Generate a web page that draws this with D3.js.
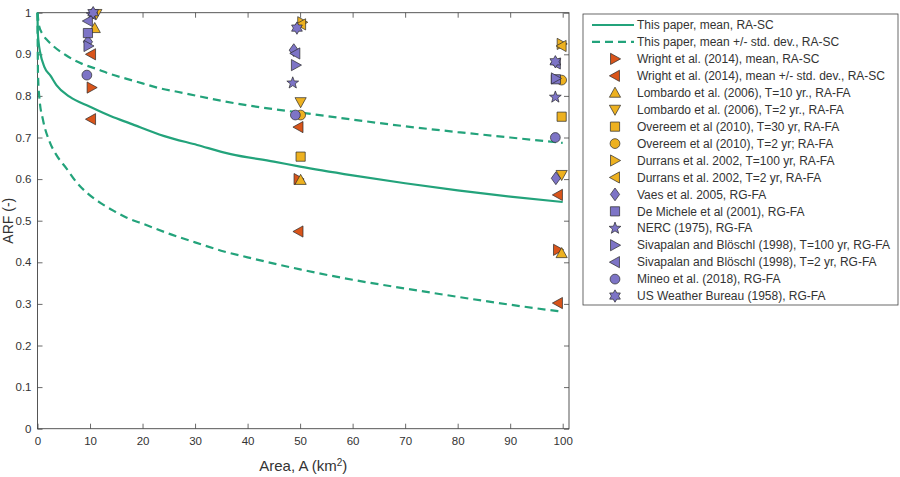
<!DOCTYPE html>
<html><head><meta charset="utf-8">
<script src="https://cdn.jsdelivr.net/npm/d3@7"></script>
<style>
body{margin:0;background:#fff}
svg{display:block}
text{font-family:"Liberation Sans",Arial,Helvetica,sans-serif}
</style>
</head><body>
<svg id="c" width="900" height="477"></svg>
<script>
// ---------------- DATA ----------------
const xTicks = [0,10,20,30,40,50,60,70,80,90,100];
const yTicks = [0,0.1,0.2,0.3,0.4,0.5,0.6,0.7,0.8,0.9,1];
const yTickLabels = ["0","0.1","0.2","0.3","0.4","0.5","0.6","0.7","0.8","0.9","1"];

// This paper: mean and mean +/- std. dev.
const meanA   = [0, 0.05, 0.2, 0.5, 1.3, 2.5, 3.6, 6.1, 10, 14, 17.6, 24, 30.4, 36.8, 45, 50, 60, 70, 80, 90, 100];
const meanARF = [1, 0.955, 0.93, 0.905, 0.87, 0.848, 0.826, 0.798, 0.774, 0.751, 0.734, 0.704, 0.682, 0.66, 0.642, 0.63, 0.609, 0.59, 0.573, 0.558, 0.545];
const upperA   = [0, 0.3, 1, 2, 2.9, 5.5, 8.5, 11.2, 14, 17, 20, 23.4, 26.6, 35.5, 45, 50, 60, 70, 80, 90, 100];
const upperARF = [1, 0.968, 0.948, 0.932, 0.921, 0.897, 0.877, 0.865, 0.852, 0.841, 0.83, 0.818, 0.81, 0.787, 0.768, 0.76, 0.743, 0.727, 0.713, 0.7, 0.687];
const lowerA   = [0, 0.1, 0.4, 1, 2.3, 3.5, 5.5, 7.4, 9.6, 12.2, 14.6, 17, 20, 25, 30, 35.5, 40, 50, 60, 70, 80, 90, 100];
const lowerARF = [1, 0.85, 0.79, 0.745, 0.69, 0.66, 0.626, 0.593, 0.565, 0.541, 0.523, 0.507, 0.493, 0.469, 0.448, 0.426, 0.412, 0.383, 0.358, 0.337, 0.317, 0.298, 0.281];

// Literature values
const wrightMeanA = [10.3, 49.7, 99.1];           const wrightMean = [0.82, 0.60, 0.43];
const wrightSdA   = [10.2, 10.2, 49.7, 49.7, 99.1, 99.1]; const wrightSd = [0.90, 0.744, 0.725, 0.474, 0.562, 0.302];
const lombardo10A = [10.9, 50.1, 99.8];           const lombardo10 = [0.963, 0.598, 0.422];
const lombardo2A  = [11.2, 50.1, 99.8];           const lombardo2  = [0.997, 0.785, 0.61];
const overeem30A  = [50.1, 99.8];                 const overeem30  = [0.654, 0.75];
const overeem2A   = [50.1, 99.8];                 const overeem2   = [0.754, 0.838];
const durrans100A = [50.4, 99.8];                 const durrans100 = [0.977, 0.925];
const durrans2A   = [50.2, 99.8];                 const durrans2   = [0.972, 0.92];
const vaesA       = [9.6, 48.8, 98.7];            const vaes       = [0.93, 0.91, 0.602];
const deMicheleA  = [9.6, 98.7];                  const deMichele  = [0.951, 0.84];
const nercA       = [10.4, 48.6, 98.6];           const nerc       = [0.995, 0.831, 0.797];
const siva100A    = [9.7, 49.2, 98.7];            const siva100    = [0.92, 0.874, 0.842];
const siva2A      = [9.6, 49.1, 98.7];            const siva2      = [0.98, 0.902, 0.878];
const mineoA      = [9.4, 49.1, 98.6];            const mineo      = [0.85, 0.754, 0.70];
const usA         = [10.6, 49.4, 98.6];           const usWB       = [1.0, 0.963, 0.882];

const legendLabels = [
  "This paper, mean, RA-SC",
  "This paper, mean +/- std. dev., RA-SC",
  "Wright et al. (2014), mean, RA-SC",
  "Wright et al. (2014), mean +/- std. dev., RA-SC",
  "Lombardo et al. (2006), T=10 yr., RA-FA",
  "Lombardo et al. (2006), T=2 yr., RA-FA",
  "Overeem et al (2010), T=30 yr, RA-FA",
  "Overeem et al (2010), T=2 yr; RA-FA",
  "Durrans et al. 2002, T=100 yr, RA-FA",
  "Durrans et al. 2002, T=2 yr, RA-FA",
  "Vaes et al. 2005, RG-FA",
  "De Michele et al (2001), RG-FA",
  "NERC (1975), RG-FA",
  "Sivapalan and Blöschl (1998), T=100 yr, RG-FA",
  "Sivapalan and Blöschl (1998), T=2 yr, RG-FA",
  "Mineo et al. (2018), RG-FA",
  "US Weather Bureau (1958), RG-FA"
];

// ---------------- STYLE ----------------
const GREEN = "#23a37b", ORANGE = "#d9541a", GOLD = "#edb120", PURPLE = "#7d74c6";
const AX = "#444";

const series = [
  {a: wrightMeanA, v: wrightMean, shape: "right", color: ORANGE},
  {a: wrightSdA,   v: wrightSd,   shape: "left",  color: ORANGE},
  {a: lombardo10A, v: lombardo10, shape: "up",    color: GOLD},
  {a: lombardo2A,  v: lombardo2,  shape: "down",  color: GOLD},
  {a: overeem30A,  v: overeem30,  shape: "square",color: GOLD},
  {a: overeem2A,   v: overeem2,   shape: "circle",color: GOLD},
  {a: durrans100A, v: durrans100, shape: "right", color: GOLD},
  {a: durrans2A,   v: durrans2,   shape: "left",  color: GOLD},
  {a: vaesA,       v: vaes,       shape: "diamond",color: PURPLE},
  {a: deMicheleA,  v: deMichele,  shape: "square",color: PURPLE},
  {a: nercA,       v: nerc,       shape: "star",  color: PURPLE},
  {a: siva100A,    v: siva100,    shape: "right", color: PURPLE},
  {a: siva2A,      v: siva2,      shape: "left",  color: PURPLE},
  {a: mineoA,      v: mineo,      shape: "circle",color: PURPLE},
  {a: usA,         v: usWB,       shape: "hexagram",color: PURPLE}
];

function shapePath(shape){
  const s = 5.6;
  switch(shape){
    case "up":    return `M0,${-s}L${s},${0.8*s}L${-s},${0.8*s}Z`;
    case "down":  return `M0,${s}L${s},${-0.8*s}L${-s},${-0.8*s}Z`;
    case "right": return `M${s},0L${-0.8*s},${-s}L${-0.8*s},${s}Z`;
    case "left":  return `M${-s},0L${0.8*s},${-s}L${0.8*s},${s}Z`;
    case "square":return `M-4.6,-4.6H4.6V4.6H-4.6Z`;
    case "circle":{const r=4.9;return `M${r},0A${r},${r} 0 1,1 ${-r},0A${r},${r} 0 1,1 ${r},0Z`;}
    case "diamond":return `M0,-6.4L4.6,0L0,6.4L-4.6,0Z`;
    case "star":{
      let p=""; for(let i=0;i<10;i++){const r=i%2?2.6:6.2;const t=-Math.PI/2+i*Math.PI/5;p+=(i?"L":"M")+(r*Math.cos(t)).toFixed(2)+","+(r*Math.sin(t)).toFixed(2);} return p+"Z";}
    case "hexagram":{
      let p=""; for(let i=0;i<12;i++){const r=i%2?3.6:6.2;const t=-Math.PI/2+i*Math.PI/6;p+=(i?"L":"M")+(r*Math.cos(t)).toFixed(2)+","+(r*Math.sin(t)).toFixed(2);} return p+"Z";}
  }
}

// ---------------- CHART ----------------
const svg = d3.select("#c");
const x = d3.scaleLinear().domain([0, 101.2]).range([37.5, 569]);
const y = d3.scaleLinear().domain([0, 1]).range([428.7, 12.7]);
const X0 = x.range()[0], X1 = x.range()[1], Y0 = y.range()[0], Y1 = y.range()[1];

svg.append("rect").attr("width",900).attr("height",477).attr("fill","#fff");

// axes via d3 axis generators (inward ticks)
const fmtY = d => yTickLabels[yTicks.indexOf(d)];
const gL = svg.append("g").attr("transform",`translate(${X0},0)`)
  .call(d3.axisLeft(y).tickValues(yTicks).tickFormat(fmtY).tickSizeInner(-5).tickSizeOuter(0).tickPadding(6));
const gB = svg.append("g").attr("transform",`translate(0,${Y0})`)
  .call(d3.axisBottom(x).tickValues(xTicks).tickFormat(d3.format("d")).tickSizeInner(-5).tickSizeOuter(0).tickPadding(8));
const gR = svg.append("g").attr("transform",`translate(${X1},0)`)
  .call(d3.axisRight(y).tickValues(yTicks).tickFormat("").tickSizeInner(-5).tickSizeOuter(0));
const gT = svg.append("g").attr("transform",`translate(0,${Y1})`)
  .call(d3.axisTop(x).tickValues(xTicks).tickFormat("").tickSizeInner(-5).tickSizeOuter(0));
[gL,gB,gR,gT].forEach(g=>{
  g.selectAll(".domain").remove();
  g.selectAll("line").attr("stroke",AX).attr("stroke-width",0.8);
  g.selectAll("text").attr("fill","#333").style("font-size","11.5px").style("font-family",'"Liberation Sans",Arial,sans-serif');
});
svg.append("rect").attr("x",X0).attr("y",Y1).attr("width",X1-X0).attr("height",Y0-Y1)
  .attr("fill","none").attr("stroke",AX).attr("stroke-width",0.9);

// axis labels
const xl = svg.append("text").attr("x",(X0+X1)/2).attr("y",471).attr("text-anchor","middle")
  .attr("fill","#333").style("font-size","15px");
xl.append("tspan").text("Area, A (km");
xl.append("tspan").attr("dy",-5).style("font-size","10px").text("2");
xl.append("tspan").attr("dy",5).text(")");
svg.append("text").attr("transform",`translate(13,${(Y0+Y1)/2}) rotate(-90)`).attr("text-anchor","middle")
  .attr("fill","#333").style("font-size","14px").text("ARF (-)");

// curves
const plotG = svg.append("g");
const line = d3.line().x(d=>x(d[0])).y(d=>y(d[1])).curve(d3.curveMonotoneX);
plotG.append("path").datum(upperA.map((a,i)=>[a,upperARF[i]])).attr("d",line)
  .attr("fill","none").attr("stroke",GREEN).attr("stroke-width",2.2).attr("stroke-dasharray","8,5");
plotG.append("path").datum(lowerA.map((a,i)=>[a,lowerARF[i]])).attr("d",line)
  .attr("fill","none").attr("stroke",GREEN).attr("stroke-width",2.2).attr("stroke-dasharray","8,5");
plotG.append("path").datum(meanA.map((a,i)=>[a,meanARF[i]])).attr("d",line)
  .attr("fill","none").attr("stroke",GREEN).attr("stroke-width",2.2);

// markers
series.forEach(s=>{
  plotG.append("g").selectAll("path").data(s.a.map((a,i)=>[a,s.v[i]])).join("path")
    .attr("transform",d=>`translate(${x(d[0])},${y(d[1])})`)
    .attr("d",shapePath(s.shape)).attr("fill",s.color).attr("stroke","#2a2a2a").attr("stroke-width",0.7);
});

// legend
const LX = 583, LY = 14, LW = 315, LH = 291, rowH = 16.94, row0 = 25;
const lg = svg.append("g");
lg.append("rect").attr("x",LX).attr("y",LY).attr("width",LW).attr("height",LH)
  .attr("fill","#fff").attr("stroke",AX).attr("stroke-width",0.8);
legendLabels.forEach((lab,i)=>{
  const cy = row0 + i*rowH;
  if(i<2){
    lg.append("line").attr("x1",592).attr("x2",634).attr("y1",cy).attr("y2",cy)
      .attr("stroke",GREEN).attr("stroke-width",2.2).attr("stroke-dasharray", i===1?"8,5":null);
  } else {
    const s = series[i-2];
    lg.append("path").attr("transform",`translate(615,${cy})`).attr("d",shapePath(s.shape))
      .attr("fill",s.color).attr("stroke","#2a2a2a").attr("stroke-width",0.7);
  }
  lg.append("text").attr("x",637).attr("y",cy+4.2).attr("fill","#333").style("font-size","12px").text(lab);
});
</script>
</body></html>
